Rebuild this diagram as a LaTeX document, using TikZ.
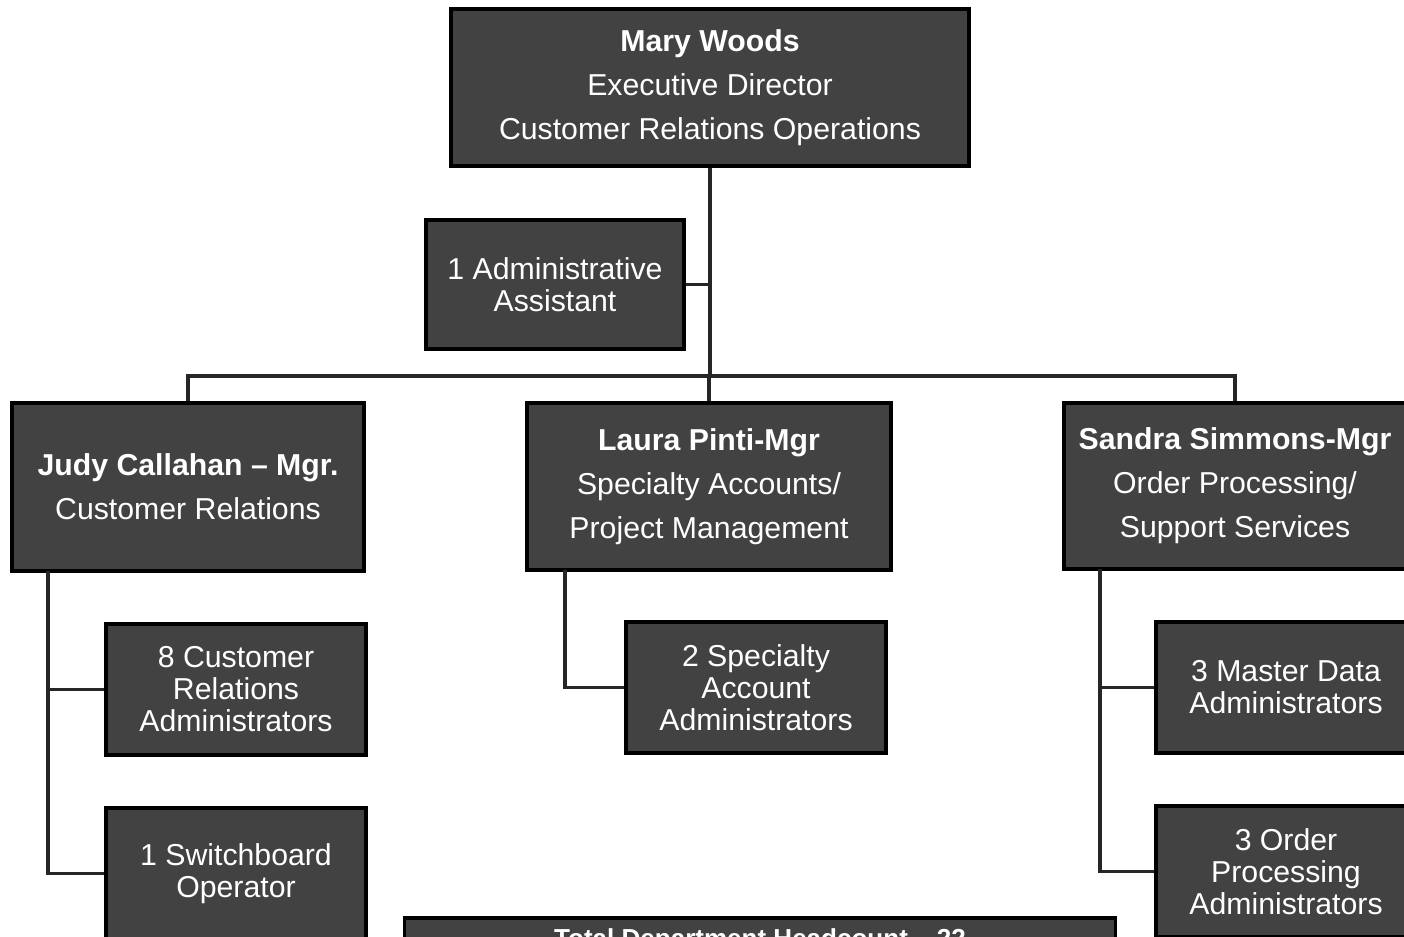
\documentclass[tikz,border=0pt]{standalone}
\usepackage{fontspec}
\setmainfont{Liberation Sans}
\usepackage{xcolor}
\definecolor{boxgray}{RGB}{66,66,66}

\begin{document}
\begin{tikzpicture}[x=0.01cm,y=-0.01cm,
        orgbox/.style={draw=black,line width=1pt,fill=boxgray,text=white,align=center,
            inner sep=0pt,font=\fontsize{8.6}{12.5}\selectfont},
        staffbox/.style={orgbox,font=\fontsize{8.6}{9.1}\selectfont},
        link/.style={draw=black!85,line width=0.9pt}]
        \useasboundingbox (0,0) rectangle (1404,936);
        % boxes
        \node[orgbox,minimum width=5.18cm,minimum height=1.57cm] (mary) at (710,87.5)
            {\textbf{Mary Woods}\\Executive Director\\Customer Relations Operations};
        \node[staffbox,minimum width=2.58cm,minimum height=1.29cm] (admin) at (555,284.5)
            {1 Administrative\\Assistant};
        \node[orgbox,minimum width=3.52cm,minimum height=1.68cm] (judy) at (188,487)
            {\textbf{Judy Callahan -- Mgr.}\\Customer Relations};
        \node[orgbox,minimum width=3.64cm,minimum height=1.67cm] (laura) at (709,486.5)
            {\textbf{Laura Pinti-Mgr}\\Specialty Accounts/\\Project Management};
        \node[orgbox,minimum width=3.42cm,minimum height=1.66cm] (sandra) at (1235,486)
            {\textbf{Sandra Simmons-Mgr}\\Order Processing/\\Support Services};
        \node[staffbox,minimum width=2.6cm,minimum height=1.31cm] (cradmin) at (236,689.5)
            {8 Customer\\Relations\\Administrators};
        \node[staffbox,minimum width=2.6cm,minimum height=1.31cm] (switch) at (236,873.5)
            {1 Switchboard\\Operator};
        \node[staffbox,minimum width=2.6cm,minimum height=1.31cm] (spadmin) at (756,687.5)
            {2 Specialty\\Account\\Administrators};
        \node[staffbox,minimum width=2.6cm,minimum height=1.31cm] (mdadmin) at (1286,687.5)
            {3 Master Data\\Administrators};
        \node[staffbox,minimum width=2.6cm,minimum height=1.31cm] (opadmin) at (1286,871.5)
            {3 Order\\Processing\\Administrators};
        \node[orgbox,minimum width=7.11cm,minimum height=0.46cm,font=\fontsize{7.4}{10}\selectfont\bfseries] (total) at (760,941)
            {Total Department Headcount -- 22};
        % connectors
        \coordinate (bus) at (710,376);
        \coordinate (jtrunk) at (48,571);
        \coordinate (ltrunk) at (565,570);
        \coordinate (strunk) at (1100,569);
        \draw[link] (mary.south) -- (bus);
        \draw[link] (admin.east) -- (admin.east -| mary.south);
        \draw[link] (judy.north) |- (bus) -| (sandra.north);
        \draw[link] (laura.north) -- (laura.north |- bus);
        \draw[link] (jtrunk) |- (cradmin.west);
        \draw[link] (jtrunk) |- (switch.west);
        \draw[link] (ltrunk) |- (spadmin.west);
        \draw[link] (strunk) |- (mdadmin.west);
        \draw[link] (strunk) |- (opadmin.west);
    \end{tikzpicture}
\end{document}
